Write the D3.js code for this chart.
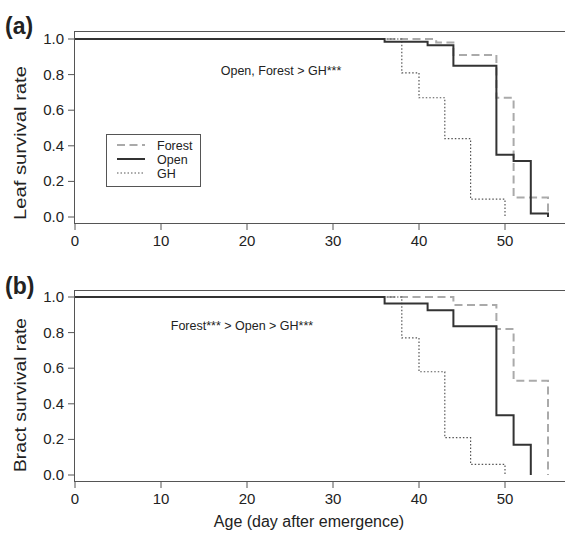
<!DOCTYPE html>
<html>
<head>
<meta charset="utf-8">
<script src="https://cdn.jsdelivr.net/npm/d3@7"></script>
<style>
  body { margin: 0; background: #fff; }
  text { font-family: "Liberation Sans", Arial, sans-serif; fill: #222; }
</style>
</head>
<body>
<svg id="chart" width="565" height="539"></svg>
<script>
// step-change days and survival values
const leafForestT = [0, 42, 44, 49, 51, 55];
const leafForestS = [1, 0.98, 0.91, 0.67, 0.11, 0];
const leafOpenT = [0, 36, 41, 44, 49, 51, 53, 55];
const leafOpenS = [1, 0.985, 0.965, 0.85, 0.35, 0.315, 0.02, 0];
const leafGhT = [0, 38, 40, 43, 46, 50];
const leafGhS = [1, 0.81, 0.67, 0.44, 0.10, 0];

const bractForestT = [0, 44, 49, 51, 55];
const bractForestS = [1, 0.955, 0.82, 0.53, 0];
const bractOpenT = [0, 36, 41, 44, 49, 51, 53];
const bractOpenS = [1, 0.963, 0.926, 0.835, 0.335, 0.17, 0];
const bractGhT = [0, 38, 40, 43, 46, 50];
const bractGhS = [1, 0.77, 0.58, 0.21, 0.06, 0];

const xTicks = [0, 10, 20, 30, 40, 50];
const yTicks = [0, 0.2, 0.4, 0.6, 0.8, 1.0];
const legendNames = ['Forest', 'Open', 'GH'];

const styles = {
  Forest: { stroke: '#aaa', width: 2, dash: '8,4.5' },
  Open: { stroke: '#333', width: 2, dash: null },
  GH: { stroke: '#555', width: 1.2, dash: '1.5,2' }
};

const svg = d3.select('#chart');
const x = d3.scaleLinear().domain([0, 57.5]).range([75, 569.5]);

function panel(opts) {
  const y = d3.scaleLinear().domain([0, 1]).range([opts.y0, opts.y1]);
  const g = svg.append('g');

  // box
  g.append('rect')
    .attr('x', 74.5).attr('y', opts.boxTop + 0.5)
    .attr('width', 520).attr('height', opts.boxBottom - opts.boxTop)
    .attr('fill', 'none').attr('stroke', '#555').attr('stroke-width', 1);

  // y axis ticks
  yTicks.forEach(t => {
    g.append('line')
      .attr('x1', 68).attr('x2', 74.5)
      .attr('y1', y(t)).attr('y2', y(t))
      .attr('stroke', '#555');
    g.append('text')
      .attr('x', 64).attr('y', y(t) + 5)
      .attr('text-anchor', 'end')
      .style('font-size', '15px')
      .text(d3.format('.1f')(t));
  });

  // x axis ticks
  xTicks.forEach(t => {
    g.append('line')
      .attr('x1', x(t)).attr('x2', x(t))
      .attr('y1', opts.boxBottom + 0.5).attr('y2', opts.boxBottom + 7)
      .attr('stroke', '#555');
    g.append('text')
      .attr('x', x(t)).attr('y', opts.boxBottom + 23)
      .attr('text-anchor', 'middle')
      .style('font-size', '15px')
      .text(t);
  });

  const line = d3.line()
    .x(d => x(d[0]))
    .y(d => y(d[1]))
    .curve(d3.curveStepAfter);

  opts.series.forEach(s => {
    const pts = s.t.map((t, i) => [t, s.s[i]]);
    const st = styles[s.name];
    g.append('path')
      .attr('d', line(pts))
      .attr('fill', 'none')
      .attr('stroke', st.stroke)
      .attr('stroke-width', st.width)
      .attr('stroke-dasharray', st.dash);
  });

  // y title, drawn a bit stretched like the original
  g.append('text')
    .attr('x', 20).attr('y', opts.labelMid)
    .attr('transform', 'rotate(-90,20,' + opts.labelMid + ')')
    .attr('text-anchor', 'middle')
    .attr('dy', '0.35em')
    .attr('textLength', 154)
    .attr('lengthAdjust', 'spacingAndGlyphs')
    .style('font-size', '16.5px')
    .text(opts.ylabel);

  g.append('text')
    .attr('x', 5).attr('y', opts.labelY)
    .style('font-size', '23px')
    .style('font-weight', 'bold')
    .text(opts.tag);

  g.append('text')
    .attr('x', opts.noteX).attr('y', opts.noteY)
    .attr('text-anchor', 'middle')
    .style('font-size', '12.5px')
    .text(opts.note);

  return y;
}

panel({
  y0: 217, y1: 39, boxTop: 31, boxBottom: 223,
  ylabel: 'Leaf survival rate', labelMid: 143, tag: '(a)', labelY: 34,
  note: 'Open, Forest > GH***', noteX: 281, noteY: 75,
  series: [
    { name: 'Forest', t: leafForestT, s: leafForestS },
    { name: 'GH', t: leafGhT, s: leafGhS },
    { name: 'Open', t: leafOpenT, s: leafOpenS }
  ]
});

panel({
  y0: 475, y1: 297, boxTop: 290, boxBottom: 481,
  ylabel: 'Bract survival rate', labelMid: 395, tag: '(b)', labelY: 294,
  note: 'Forest*** > Open > GH***', noteX: 242, noteY: 330,
  series: [
    { name: 'Forest', t: bractForestT, s: bractForestS },
    { name: 'GH', t: bractGhT, s: bractGhS },
    { name: 'Open', t: bractOpenT, s: bractOpenS }
  ]
});

// legend in panel (a)
const lg = svg.append('g');
lg.append('rect')
  .attr('x', 106.5).attr('y', 134.5).attr('width', 94).attr('height', 52)
  .attr('fill', '#fff').attr('stroke', '#555');
legendNames.forEach((n, i) => {
  const ly = 145 + i * 14;
  const st = styles[n];
  lg.append('line')
    .attr('x1', 117).attr('x2', 145)
    .attr('y1', ly).attr('y2', ly)
    .attr('stroke', st.stroke)
    .attr('stroke-width', st.width)
    .attr('stroke-dasharray', st.dash);
  lg.append('text')
    .attr('x', 157).attr('y', ly + 4.5)
    .style('font-size', '12.5px')
    .text(n);
});

svg.append('text')
  .attr('x', 309).attr('y', 527)
  .attr('text-anchor', 'middle')
  .style('font-size', '16px')
  .text('Age (day after emergence)');
</script>
</body>
</html>
